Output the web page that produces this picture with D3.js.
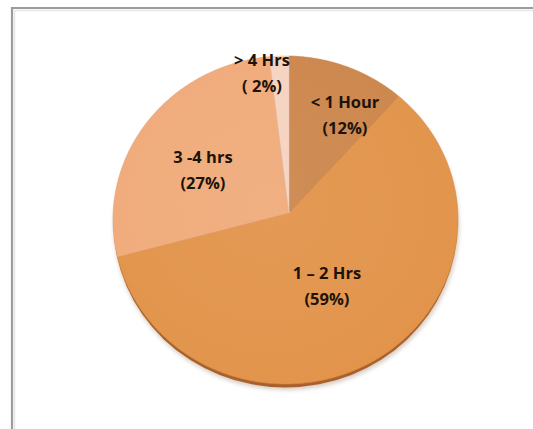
<!DOCTYPE html>
<html>
<head>
<meta charset="utf-8">
<script src="https://cdn.jsdelivr.net/npm/d3@7"></script>
<style>
  html, body { margin: 0; padding: 0; background: #fff; }
  svg { display: block; }
</style>
</head>
<body>
<svg id="chart" width="533" height="429"></svg>
<script>
// Daily time spent, share of respondents (%)
const categories = ["< 1 Hour", "1 – 2 Hrs", "3 -4 hrs", "> 4 Hrs"];
const values = [12, 59, 27, 2];
const pctLabels = ["(12%)", "(59%)", "(27%)", "( 2%)"];
const colors = ["#cc874d", "#e2944b", "#f0ab7a", "#f5d3c0"];

const svg = d3.select("#chart");
const W = 533, H = 429;

// frame around the chart area
svg.append("rect").attr("x", 0).attr("y", 0).attr("width", W).attr("height", H).attr("fill", "#fff");
svg.append("path")
  .attr("d", `M12,${H} L12,8 L${W},8`)
  .attr("fill", "none").attr("stroke", "#9c9c9c").attr("stroke-width", 2.2);
svg.append("path")
  .attr("d", `M14.5,${H} L14.5,10.5 L${W},10.5`)
  .attr("fill", "none").attr("stroke", "#e6e6e6").attr("stroke-width", 1.5);

// tilted pie: outline ellipse and the apex where slices meet
const ell = { cx: 285.5, cy: 220, rx: 172.5, ry: 164 };
const apex = { x: 289, y: 213 };

// point where a ray from the apex at a pie angle meets the outline
function edgePoint(theta) {
  const dx = Math.sin(theta), dy = -Math.cos(theta);
  const px = apex.x - ell.cx, py = apex.y - ell.cy;
  const a = dx * dx / (ell.rx * ell.rx) + dy * dy / (ell.ry * ell.ry);
  const b = 2 * (px * dx / (ell.rx * ell.rx) + py * dy / (ell.ry * ell.ry));
  const c = px * px / (ell.rx * ell.rx) + py * py / (ell.ry * ell.ry) - 1;
  const s = (-b + Math.sqrt(b * b - 4 * a * c)) / (2 * a);
  return [apex.x + s * dx, apex.y + s * dy];
}

const pie = d3.pie().value(d => d).sort(null);
const arcs = pie(values);
const line = d3.line();

// soft shadow and darker rim along the lower edge
const defs = svg.append("defs");
defs.append("filter").attr("id", "soft").attr("x", "-10%").attr("y", "-10%").attr("width", "120%").attr("height", "120%")
  .append("feGaussianBlur").attr("stdDeviation", 2.2);
svg.append("ellipse")
  .attr("cx", ell.cx + 1).attr("cy", ell.cy + 6).attr("rx", ell.rx).attr("ry", ell.ry)
  .attr("fill", "#8a6a50").attr("opacity", 0.35).attr("filter", "url(#soft)");
svg.append("ellipse")
  .attr("cx", ell.cx).attr("cy", ell.cy + 3.5).attr("rx", ell.rx - 0.5).attr("ry", ell.ry)
  .attr("fill", "#a8612c");

// slices
svg.append("g").selectAll("path")
  .data(arcs)
  .join("path")
  .attr("d", d => {
    const n = Math.max(8, Math.ceil((d.endAngle - d.startAngle) / 0.01));
    const pts = [[apex.x, apex.y]];
    for (let i = 0; i <= n; i++) {
      pts.push(edgePoint(d.startAngle + (d.endAngle - d.startAngle) * i / n));
    }
    return line(pts) + "Z";
  })
  .attr("fill", (d, i) => colors[i])
  .attr("stroke", (d, i) => d3.color(colors[i]).darker(0.15))
  .attr("stroke-width", 0.6);

// gentle highlight across the top surface
const grad = defs.append("radialGradient").attr("id", "sheen")
  .attr("cx", "45%").attr("cy", "45%").attr("r", "60%");
grad.append("stop").attr("offset", "0%").attr("stop-color", "#fff").attr("stop-opacity", 0.06);
grad.append("stop").attr("offset", "100%").attr("stop-color", "#fff").attr("stop-opacity", 0);
svg.append("ellipse")
  .attr("cx", ell.cx).attr("cy", ell.cy).attr("rx", ell.rx).attr("ry", ell.ry)
  .attr("fill", "url(#sheen)");

// labels: name on the first line, share on the second
const labels = svg.append("g")
  .attr("font-family", "'Open Sans', Lato, sans-serif")
  .attr("font-weight", "bold")
  .attr("font-size", 16.5)
  .attr("fill", "#1e1309")
  .attr("text-anchor", "middle");

const labelCenters = [[345, 115], [327, 286], [203, 170], [262, 73]];
arcs.forEach((d, i) => {
  const c = labelCenters[i];
  const g = labels.append("text");
  g.append("tspan").attr("x", c[0]).attr("y", c[1] - 7).text(categories[i]);
  g.append("tspan").attr("x", c[0]).attr("y", c[1] + 19).text(pctLabels[i]);
});
</script>
</body>
</html>
